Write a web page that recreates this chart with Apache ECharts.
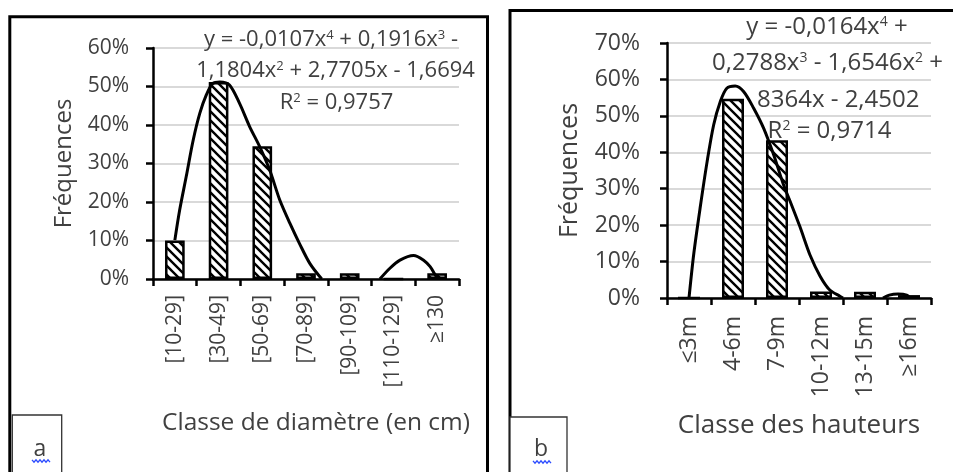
<!DOCTYPE html>
<html><head><meta charset="utf-8">
<script src="https://cdn.jsdelivr.net/npm/echarts@6/dist/echarts.min.js"></script>
<style>html,body{margin:0;padding:0;background:#fff}#c{width:953px;height:472px}</style>
</head><body><div id="c"></div>
<script>
// ---- data ----
const catsA = ['[10-29]', '[30-49]', '[50-69]', '[70-89]', '[90-109]', '[110-129]', '≥130'];
const freqA = [10, 51.2, 34.5, 1.5, 1.5, 0, 1.5];
// polynomial trendline as drawn (x = class index 1..7, y = %)
const trendA1 = [[1, 10.1], [1.11, 17.9], [1.26, 26.6], [1.42, 36.1], [1.57, 43], [1.72, 47.8], [1.87, 50.8], [2.03, 51.2], [2.25, 50.4], [2.48, 45.6], [2.71, 39.6], [2.94, 34.4], [3.17, 28.3], [3.4, 20.5], [3.63, 14.5], [3.86, 9], [4.09, 4], [4.36, 0]];
const trendA2 = [[5.69, 0], [5.92, 2.8], [6.15, 4.9], [6.46, 6.1], [6.69, 4.9], [6.84, 3.2], [6.95, 1.2], [7.0, 0.3]];
const eqA = ['y = -0,0107x|4| + 0,1916x|3| -', '1,1804x|2| + 2,7705x - 1,6694', 'R|2| = 0,9757'];

const catsB = ['≤3m', '4-6m', '7-9m', '10-12m', '13-15m', '≥16m'];
const freqB = [0, 54.7, 43.3, 1.8, 1.7, 0.8];
const trendB1 = [[1, 0], [1.11, 12.3], [1.26, 25.3], [1.41, 37.3], [1.56, 47.5], [1.71, 53.9], [1.86, 57.6], [2.05, 58.2], [2.24, 56.7], [2.47, 52.1], [2.7, 46.5], [2.93, 39.1], [3.15, 31], [3.3, 26.5], [3.52, 19.6], [3.75, 11.8], [3.98, 6], [4.2, 2.2], [4.43, 0.5], [4.5, 0]];
const trendB2 = [[5.41, 0], [5.55, 0.8], [5.75, 1.1], [5.95, 0.8], [6.02, 0]];
const eqB = ['y = -0,0164x|4| +', '0,2788x|3| - 1,6546x|2| +', '8364x - 2,4502', 'R|2| = 0,9714'];

const yTicksA = { min: 0, max: 60, step: 10 };
const yTicksB = { min: 0, max: 70, step: 10 };

// ---- rendering ----
const FONT = 'Open Sans';
const TXT = '#404040';

function hatch() {
  const n = 9;
  const c = document.createElement('canvas');
  c.width = n; c.height = n;
  const g = c.getContext('2d');
  g.fillStyle = '#fff'; g.fillRect(0, 0, n, n);
  g.strokeStyle = '#000'; g.lineWidth = 2.4; g.lineCap = 'square';
  g.beginPath();
  g.moveTo(-2, -2); g.lineTo(n + 2, n + 2);
  g.moveTo(-2, n - 2); g.lineTo(2, n + 2);
  g.moveTo(n - 2, -2); g.lineTo(n + 2, 2);
  g.stroke();
  return c;
}
const hatchFill = { image: hatch(), repeat: 'repeat' };

function toRich(s) {
  const parts = s.split('|');
  return parts.map((p, i) => p === '' ? '' : (i % 2 ? '{s|' + p + '}' : '{n|' + p + '}')).join('');
}
function eqText(s, x, y, fs, align) {
  return {
    type: 'text', x: x, y: y, z: 1,
    style: {
      text: toRich(s), align: align || 'center', verticalAlign: 'middle',
      rich: {
        n: { fontSize: fs, fontFamily: FONT, fill: TXT, lineHeight: fs * 1.25, verticalAlign: 'middle' },
        s: { fontSize: Math.round(fs * 0.6), fontFamily: FONT, fill: TXT, lineHeight: Math.round(fs * 0.6), verticalAlign: 'top', padding: [Math.round(fs * 0.12), 0, 0, 0] }
      }
    }
  };
}
function wavy(x0, x1, y) {
  const pts = [];
  let up = true;
  for (let x = x0; x <= x1; x += 2) { pts.push([x, up ? y - 1.2 : y + 1.2]); up = !up; }
  return { type: 'polyline', z: 13, shape: { points: pts }, style: { stroke: '#2c4cff', lineWidth: 1.3, fill: 'none' } };
}

function catAxis(gi, data, fs, margin, name, nameGap, nameFs, shift) {
  return {
    type: 'category', gridIndex: gi, data: data, boundaryGap: true,
    axisLine: { lineStyle: { color: '#000', width: 2.5 } },
    axisTick: { show: true, length: 7, lineStyle: { color: '#000', width: 2.5 } },
    axisLabel: { rotate: 90, interval: 0, margin: margin, fontSize: fs, fontFamily: FONT, color: TXT },
    name: name, nameLocation: 'middle', nameGap: nameGap,
    nameTextStyle: { fontSize: nameFs, fontFamily: FONT, color: TXT, padding: [0, 0, 0, shift] }
  };
}
function valXAxis(gi, n) {
  return { type: 'value', gridIndex: gi, min: 0.5, max: n + 0.5, show: false };
}
function valYAxis(gi, t, fs, margin, nameGap, nameFs) {
  return {
    type: 'value', gridIndex: gi, min: t.min, max: t.max, interval: t.step,
    axisLine: { show: true, lineStyle: { color: '#000', width: 2.5 } },
    axisTick: { show: true, length: 7, lineStyle: { color: '#000', width: 2.5 } },
    axisLabel: { formatter: '{value}%', margin: margin, fontSize: fs, fontFamily: FONT, color: TXT },
    splitLine: { show: true, lineStyle: { color: '#d9d9d9', width: 2 } },
    name: 'Fréquences', nameLocation: 'middle', nameRotate: 90, nameGap: nameGap,
    nameTextStyle: { fontSize: nameFs, fontFamily: FONT, color: TXT }
  };
}
const barStyle = { color: hatchFill, borderColor: '#000', borderWidth: 2.5 };
const curveStyle = { color: '#000', width: 3 };

const chart = echarts.init(document.getElementById('c'), null, { renderer: 'canvas' });
const option = {
  animation: false,
  backgroundColor: '#fff',
  textStyle: { fontFamily: FONT },
  grid: [
    { left: 153, top: 48, width: 306, height: 231 },
    { left: 667, top: 43, width: 264, height: 255 }
  ],
  xAxis: [
    catAxis(0, catsA, 21, 16, 'Classe de diamètre (en cm)', 132, 24.5, 20),
    valXAxis(0, catsA.length),
    catAxis(1, catsB, 23, 18, 'Classe des hauteurs', 115, 26, 0),
    valXAxis(1, catsB.length)
  ],
  yAxis: [
    valYAxis(0, yTicksA, 21, 24, 77, 24),
    valYAxis(1, yTicksB, 23, 27, 85, 25)
  ],
  series: [
    { type: 'bar', xAxisIndex: 0, yAxisIndex: 0, data: freqA, barWidth: '45%', itemStyle: barStyle },
    { type: 'line', xAxisIndex: 1, yAxisIndex: 0, data: trendA1, smooth: 0.3, showSymbol: false, lineStyle: curveStyle },
    { type: 'line', xAxisIndex: 1, yAxisIndex: 0, data: trendA2, smooth: 0.3, showSymbol: false, lineStyle: curveStyle },
    { type: 'bar', xAxisIndex: 2, yAxisIndex: 1, data: freqB, barWidth: '50%', itemStyle: barStyle },
    { type: 'line', xAxisIndex: 3, yAxisIndex: 1, data: trendB1, smooth: 0.3, showSymbol: false, lineStyle: curveStyle },
    { type: 'line', xAxisIndex: 3, yAxisIndex: 1, data: trendB2, smooth: 0.3, showSymbol: false, lineStyle: curveStyle }
  ],
  graphic: [
    eqText(eqA[0], 331, 40, 22),
    eqText(eqA[1], 335.5, 71, 22),
    eqText(eqA[2], 336.5, 103, 22),
    eqText(eqB[0], 827, 27, 24),
    eqText(eqB[1], 827.5, 63, 24),
    eqText(eqB[2], 757, 100, 24, 'left'),
    eqText(eqB[3], 829.5, 131, 24),
    { type: 'rect', z: 10, shape: { x: 9.8, y: 16.7, width: 477.7, height: 520 }, style: { fill: 'none', stroke: '#000', lineWidth: 3 } },
    { type: 'rect', z: 10, shape: { x: 510, y: 10.5, width: 480, height: 520 }, style: { fill: 'none', stroke: '#000', lineWidth: 3 } },
    { type: 'rect', z: 11, shape: { x: 12.3, y: 415, width: 49.4, height: 80 }, style: { fill: '#fff', stroke: '#333', lineWidth: 1.3 } },
    { type: 'rect', z: 11, shape: { x: 510, y: 417, width: 57, height: 80 }, style: { fill: '#fff', stroke: '#333', lineWidth: 1.3 } },
    { type: 'text', z: 12, x: 40, y: 449, style: { text: 'a', fontSize: 23, fontFamily: FONT, fill: TXT, align: 'center', verticalAlign: 'middle' } },
    { type: 'text', z: 12, x: 541, y: 449, style: { text: 'b', fontSize: 23, fontFamily: FONT, fill: TXT, align: 'center', verticalAlign: 'middle' } },
    wavy(32, 50, 461),
    wavy(533, 551, 462)
  ]
};
chart.setOption(option);
</script>
</body></html>
